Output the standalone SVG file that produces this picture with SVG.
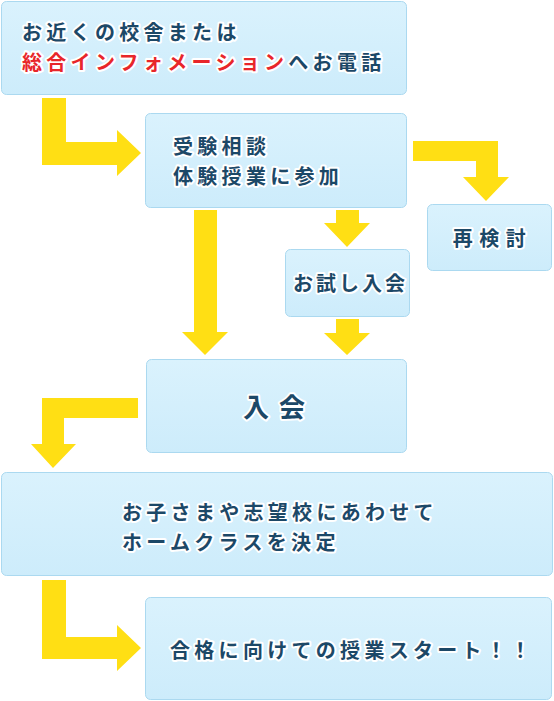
<svg xmlns="http://www.w3.org/2000/svg" width="554" height="701" viewBox="0 0 554 701">
<defs>
<linearGradient id="bg" x1="0" y1="0" x2="0" y2="1">
<stop offset="0" stop-color="#daf2fd"/>
<stop offset="1" stop-color="#cdecfb"/>
</linearGradient>
<style>
.box{fill:url(#bg);stroke:#abd9f0;stroke-width:1}
.arr{fill:#ffdf14}
.t{font-family:"Noto Sans CJK JP","Noto Sans",sans-serif;font-weight:bold;font-size:20px;letter-spacing:4.3px;fill:#1c4867;stroke:#ffffff;stroke-width:4px;stroke-linejoin:round;paint-order:stroke}
.red{fill:#e8262a}
.big{font-size:26px;letter-spacing:10px}
.mid{text-anchor:middle}
</style>
</defs>
<rect width="554" height="701" fill="#ffffff"/>
<g id="connectors">
<polygon class="arr" points="42,98 66,98 66,142 117,142 117,130 141,153 117,176 117,165 42,165"/>
<polygon class="arr" points="413,141 498,141 498,177 509,177 486,201 463,177 476,177 476,161 413,161"/>
<polygon class="arr" points="336,210 359,210 359,223 370,223 347,247 324,223 336,223"/>
<polygon class="arr" points="194,210 217,210 217,332 228,332 205,355 182,332 194,332"/>
<polygon class="arr" points="336,319 359,319 359,333 370,333 347,355 324,333 336,333"/>
<polygon class="arr" points="42,398 138,398 138,418 64,418 64,444 76,444 53,468 31,444 42,444"/>
<polygon class="arr" points="42,580 66,580 66,637 117,637 117,625 141,648 117,671 117,659 42,659"/>
</g>
<g id="n1">
<rect class="box" x="1.5" y="1.5" width="405" height="93" rx="5"/>
<text class="t" x="22" y="40">お近くの校舎または</text>
<text class="t" x="22" y="70"><tspan class="red">総合インフォメーション</tspan>へお電話</text>
</g>
<g id="n2">
<rect class="box" x="145.5" y="113.5" width="261" height="94" rx="5"/>
<text class="t" x="173" y="154">受験相談</text>
<text class="t" x="173" y="184">体験授業に参加</text>
</g>
<g id="n3">
<rect class="box" x="427.5" y="204.5" width="124" height="66" rx="5"/>
<text class="t mid" x="492.5" y="246" style="letter-spacing:6.5px">再検討</text>
</g>
<g id="n4">
<rect class="box" x="285.5" y="249.5" width="124" height="67" rx="5"/>
<text class="t mid" x="350.5" y="291" style="letter-spacing:3px">お試し入会</text>
</g>
<g id="n5">
<rect class="box" x="146.5" y="359.5" width="260" height="93" rx="5"/>
<text class="t big mid" x="279" y="417">入会</text>
</g>
<g id="n6">
<rect class="box" x="1.5" y="472.5" width="551" height="103" rx="5"/>
<text class="t" x="122" y="520">お子さまや志望校にあわせて</text>
<text class="t" x="122" y="550">ホームクラスを決定</text>
</g>
<g id="n7">
<rect class="box" x="145.5" y="597.5" width="406" height="102" rx="5"/>
<text class="t" x="170" y="658">合格に向けての授業スタート！！</text>
</g>
</svg>
